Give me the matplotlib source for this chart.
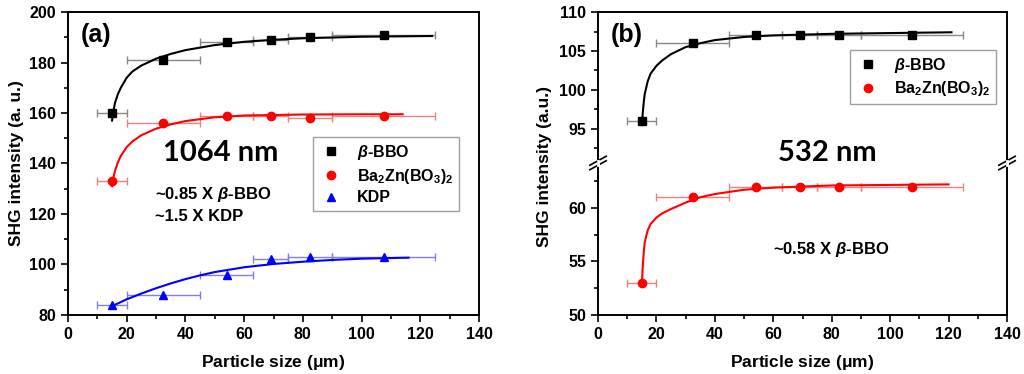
import matplotlib.pyplot as plt
from matplotlib.lines import Line2D

plt.rcParams['font.family'] = ['Liberation Sans', 'DejaVu Sans']
plt.rcParams['font.weight'] = 'bold'
plt.rcParams['axes.labelweight'] = 'bold'
plt.rcParams['mathtext.fontset'] = 'custom'
plt.rcParams['mathtext.rm'] = 'Liberation Sans:bold'
plt.rcParams['mathtext.it'] = 'Liberation Sans:bold:italic'

# particle size bins (um)
sizes = [15, 32.5, 54, 69, 82.5, 107.5]
size_err = [5, 12.5, 9, 6, 7.5, 17.5]

# 1064 nm
bbo_1064 = [160, 181, 188, 189, 190, 191]
bzbo_1064 = [133, 156, 159, 159, 158, 159]
kdp_1064 = [84, 88, 96, 102, 103, 103]

# fitted curves
bbo_fit_x_a = [15, 15.5, 16, 17, 18, 20, 22, 25, 30, 35, 40, 50, 60, 70, 80, 100, 124]
bbo_fit_y_a = [157, 161, 164, 167.5, 170, 174, 176.5, 178.8, 181.5, 183.4, 184.9, 186.9, 188.2, 189.0, 189.6, 190.2, 190.5]
bzbo_fit_x_a = [15, 15.5, 16, 17, 18, 20, 22, 25, 30, 35, 40, 50, 60, 80, 100, 114]
bzbo_fit_y_a = [131, 134.5, 137, 140.5, 143, 146.5, 148.8, 151.2, 153.8, 155.5, 156.8, 158.3, 159.0, 159.4, 159.5, 159.5]
kdp_fit_x_a = [15, 20, 25, 30, 35, 40, 45, 50, 60, 70, 80, 90, 100, 116]
kdp_fit_y_a = [83.5, 86.2, 88.5, 90.6, 92.5, 94.2, 95.7, 97.0, 98.9, 100.2, 101.1, 101.8, 102.3, 102.7]

# 532 nm
bbo_532 = [96, 106, 107, 107, 107, 107]
bzbo_532 = [53, 61, 62, 62, 62, 62]
bbo_fit_x_b = [15, 15.3, 15.7, 16, 17, 18, 20, 22, 25, 30, 35, 40, 50, 60, 80, 100, 121]
bbo_fit_y_b = [95.5, 97, 98.6, 99.5, 101.1, 102.1, 103.1, 103.8, 104.6, 105.5, 106.0, 106.4, 106.8, 107.0, 107.2, 107.3, 107.4]
bzbo_fit_x_b = [15, 15.3, 15.7, 16, 17, 18, 20, 22, 25, 30, 35, 40, 50, 60, 80, 100, 120]
bzbo_fit_y_b = [52.8, 54.5, 56.0, 56.8, 57.9, 58.5, 59.1, 59.5, 59.9, 60.5, 61.0, 61.3, 61.7, 61.9, 62.1, 62.15, 62.2]

fig = plt.figure(figsize=(10.24, 3.74), dpi=100)
ax1 = fig.add_axes([0.0664, 0.1578, 0.4014, 0.8101])
axt = fig.add_axes([0.584, 0.5642, 0.3994, 0.4037])
axb = fig.add_axes([0.584, 0.1578, 0.3994, 0.4064])


def style(ax, xticks=True):
    for s in ax.spines.values():
        s.set_linewidth(1.4)
    ax.tick_params(which='both', direction='out', width=1.2, labelsize=11.5)
    ax.tick_params(which='major', length=5)
    ax.tick_params(which='minor', length=3)
    ax.set_xlim(0, 140)
    ax.set_xticks(range(0, 141, 20))
    ax.set_xticks(range(10, 140, 20), minor=True)
    if not xticks:
        ax.tick_params(axis='x', which='both', bottom=False, labelbottom=False)


def bold_ticks(ax):
    for t in ax.get_xticklabels() + ax.get_yticklabels():
        t.set_fontweight('bold')


def series(ax, y, fx, fy, color, ecolor, marker, ms):
    ax.errorbar(sizes, y, xerr=size_err, fmt='none', ecolor=ecolor, elinewidth=1, capsize=3, capthick=1)
    ax.plot(fx, fy, color=color, lw=1.5)
    ax.plot(sizes, y, marker, color=color, ms=ms)


# panel (a)
style(ax1)
series(ax1, bbo_1064, bbo_fit_x_a, bbo_fit_y_a, 'black', '#888888', 's', 5.5)
series(ax1, bzbo_1064, bzbo_fit_x_a, bzbo_fit_y_a, 'red', '#f08080', 'o', 6)
series(ax1, kdp_1064, kdp_fit_x_a, kdp_fit_y_a, 'blue', '#8080e0', '^', 6)
ax1.set_ylim(80, 200)
ax1.set_yticks(range(80, 201, 20))
ax1.set_yticks(range(90, 200, 20), minor=True)
bold_ticks(ax1)
ax1.set_xlabel('Particle size ($\\mathregular{\\mu}$m)', fontsize=12.5, labelpad=8)
ax1.set_ylabel('SHG intensity (a. u.)', fontsize=12.5, labelpad=4)
ax1.text(0.03, 0.965, '(a)', transform=ax1.transAxes, fontsize=18, va='top')
ax1.text(52.1, 144.2, '1064 nm', fontsize=21, ha='center', va='center', family=['Lato', 'DejaVu Sans'])
ax1.text(29.6, 127.9, '~0.85 X $\\it{\\beta}$-BBO', fontsize=12, va='center')
ax1.text(29.6, 119.2, '~1.5 X KDP', fontsize=12, va='center')
h = [Line2D([], [], ls='none', marker='s', color='black', ms=5.5),
     Line2D([], [], ls='none', marker='o', color='red', ms=6),
     Line2D([], [], ls='none', marker='^', color='blue', ms=6)]
ax1.legend(h, ['$\\it{\\beta}$-BBO', 'Ba$_2$Zn(BO$_3$)$_2$', 'KDP'], loc='upper left',
           bbox_to_anchor=(0.596, 0.587), fontsize=11.5, frameon=True, fancybox=False,
           edgecolor='#888888', handletextpad=0.9, borderpad=0.35, labelspacing=0.3,
           borderaxespad=0, handlelength=1.5)

# panel (b) broken axis
style(axt, xticks=False)
style(axb)
series(axt, bbo_532, bbo_fit_x_b, bbo_fit_y_b, 'black', '#888888', 's', 5.5)
series(axb, bzbo_532, bzbo_fit_x_b, bzbo_fit_y_b, 'red', '#f08080', 'o', 6)
axt.set_ylim(90.64, 110)
axt.set_yticks([95, 100, 105, 110])
axt.set_yticks([92.5, 97.5, 102.5, 107.5], minor=True)
axb.set_ylim(50, 64.2)
axb.set_yticks([50, 55, 60])
axb.set_yticks([52.5, 57.5, 62.5], minor=True)
bold_ticks(axt)
bold_ticks(axb)
axt.spines['bottom'].set_visible(False)
axb.spines['top'].set_visible(False)
axb.set_xlabel('Particle size ($\\mathregular{\\mu}$m)', fontsize=12.5, labelpad=8)
fig.text(0.532, 0.555, 'SHG intensity (a.u.)', rotation=90, fontsize=12.5, ha='center', va='center')

# break marks
d = 0.008
for xf in (0.584, 0.9834):
    for dy in (-0.006, 0.006):
        fig.add_artist(Line2D([xf - d, xf + d], [0.5642 + dy - 0.012, 0.5642 + dy + 0.012],
                              color='black', lw=1.2))
    fig.add_artist(Line2D([xf, xf], [0.5642 - 0.006, 0.5642 + 0.006], color='white', lw=2))

axt.text(0.03, 0.93, '(b)', transform=axt.transAxes, fontsize=18, va='top')
fig.text(0.808, 0.591, '532 nm', fontsize=21, ha='center', va='center', family=['Lato', 'DejaVu Sans'])
axb.text(79.8, 56.1, '~0.58 X $\\it{\\beta}$-BBO', fontsize=12, ha='center', va='center')
h2 = [Line2D([], [], ls='none', marker='s', color='black', ms=5.5),
      Line2D([], [], ls='none', marker='o', color='red', ms=6)]
axt.legend(h2, ['$\\it{\\beta}$-BBO', 'Ba$_2$Zn(BO$_3$)$_2$'], loc='upper left',
           bbox_to_anchor=(0.616, 0.748), fontsize=11.5, frameon=True, fancybox=False,
           edgecolor='#888888', handletextpad=0.9, borderpad=0.35, labelspacing=0.3,
           borderaxespad=0, handlelength=1.5)

fig.savefig('out.png', dpi=100)
